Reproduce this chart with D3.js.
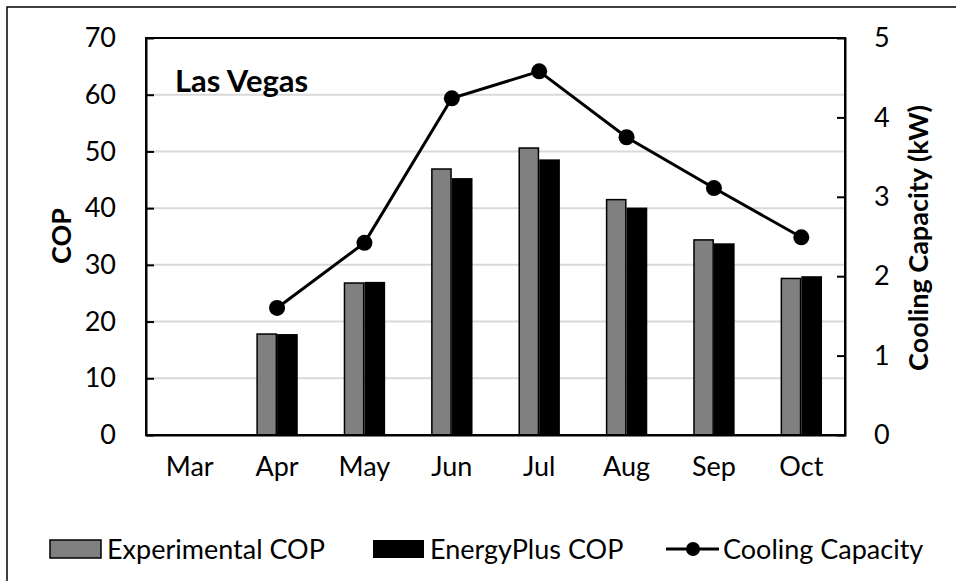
<!DOCTYPE html>
<html>
<head>
<meta charset="utf-8">
<script src="https://cdn.jsdelivr.net/npm/d3@7"></script>
<style>
  body { margin: 0; background: #fff; }
  svg { display: block; font-family: Lato, "Liberation Sans", sans-serif; }
</style>
</head>
<body>
<svg id="chart" width="956" height="581"></svg>
<script>
// Monthly data, Las Vegas
var months = ['Mar', 'Apr', 'May', 'Jun', 'Jul', 'Aug', 'Sep', 'Oct'];
var experimentalCop = [null, 17.8, 26.8, 46.9, 50.6, 41.5, 34.4, 27.6];
var energyPlusCop = [null, 17.8, 27.0, 45.3, 48.6, 40.1, 33.8, 28.0];
var coolingCapacity = [null, 1.60, 2.42, 4.24, 4.58, 3.75, 3.11, 2.49];
var copTicks = [0, 10, 20, 30, 40, 50, 60, 70];
var capTicks = [0, 1, 2, 3, 4, 5];

var svg = d3.select('#chart');
var margin = { top: 38, right: 111, bottom: 146, left: 146 };
var width = 956 - margin.left - margin.right;
var height = 581 - margin.top - margin.bottom;

// outer frame (only left and top edges visible)
svg.append('rect')
	.attr('x', 7).attr('y', 7)
	.attr('width', 1000).attr('height', 1000)
	.attr('fill', 'none').attr('stroke', '#000').attr('stroke-width', 1.5);

var g = svg.append('g').attr('transform', 'translate(' + margin.left + ',' + margin.top + ')');

var x = d3.scaleBand().domain(months).range([0, width]).paddingInner(0.526).paddingOuter(0.263);
var xSeries = d3.scaleBand().domain(['exp', 'ep']).range([0, x.bandwidth()]);
var yLeft = d3.scaleLinear().domain([0, 70]).range([height, 0]);
var yRight = d3.scaleLinear().domain([0, 5]).range([height, 0]);

// Gridlines
g.append('g')
	.selectAll('line')
	.data(copTicks.slice(1, -1))
	.enter()
	.append('line')
	.attr('x1', 0).attr('x2', width)
	.attr('y1', function(d) { return yLeft(d); })
	.attr('y2', function(d) { return yLeft(d); })
	.attr('stroke', '#d9d9d9').attr('stroke-width', 2);

// Bars
var groups = g.append('g')
	.selectAll('g')
	.data(months)
	.enter()
	.append('g')
	.attr('transform', function(d) { return 'translate(' + x(d) + ',0)'; });

groups.each(function(m, i) {
	var grp = d3.select(this);
	if (experimentalCop[i] != null) {
		grp.append('rect')
			.attr('x', xSeries('exp') + 0.75)
			.attr('y', yLeft(experimentalCop[i]))
			.attr('width', xSeries.bandwidth() - 1.5)
			.attr('height', height - yLeft(experimentalCop[i]))
			.attr('fill', '#808080')
			.attr('stroke', '#000').attr('stroke-width', 1.5);
	}
	if (energyPlusCop[i] != null) {
		grp.append('rect')
			.attr('x', xSeries('ep'))
			.attr('y', yLeft(energyPlusCop[i]))
			.attr('width', xSeries.bandwidth())
			.attr('height', height - yLeft(energyPlusCop[i]))
			.attr('fill', '#000');
	}
});

// Cooling capacity line
var pts = months.map(function(m, i) { return { m: m, v: coolingCapacity[i] }; })
	.filter(function(d) { return d.v != null; });

var line = d3.line()
	.x(function(d) { return x(d.m) + x.bandwidth() / 2; })
	.y(function(d) { return yRight(d.v); });

g.append('path')
	.datum(pts)
	.attr('d', line)
	.attr('fill', 'none')
	.attr('stroke', '#000')
	.attr('stroke-width', 3);

g.append('g')
	.selectAll('circle')
	.data(pts)
	.enter()
	.append('circle')
	.attr('cx', function(d) { return x(d.m) + x.bandwidth() / 2; })
	.attr('cy', function(d) { return yRight(d.v); })
	.attr('r', 8)
	.attr('fill', '#000');

// Axes (ticks point inward)
var leftAxis = g.append('g')
	.call(d3.axisLeft(yLeft).tickValues(copTicks).tickSize(-8).tickPadding(30));
var rightAxis = g.append('g')
	.attr('transform', 'translate(' + width + ',0)')
	.call(d3.axisRight(yRight).tickValues(capTicks).tickFormat(d3.format('d')).tickSize(-8).tickPadding(29));
var bottomAxis = g.append('g')
	.attr('transform', 'translate(0,' + height + ')')
	.call(d3.axisBottom(x).tickSize(0).tickPadding(22));

[leftAxis, rightAxis, bottomAxis].forEach(function(a) {
	a.selectAll('text').attr('font-size', 27).attr('font-family', 'Lato, sans-serif').attr('fill', '#000');
	a.selectAll('.domain, .tick line').attr('stroke', '#000').attr('stroke-width', 2);
});
rightAxis.selectAll('.tick line').filter(function(d) { return d === 0 || d === 5; }).remove();
leftAxis.selectAll('.tick line').filter(function(d) { return d === 0 || d === 70; }).remove();

// plot box
g.append('rect')
	.attr('width', width).attr('height', height)
	.attr('fill', 'none').attr('stroke', '#000').attr('stroke-width', 2);

// Titles
g.append('text')
	.attr('x', 29).attr('y', 54)
	.attr('font-size', 31).attr('font-weight', 'bold')
	.text('Las Vegas');

svg.append('text')
	.attr('transform', 'translate(71,236) rotate(-90)')
	.attr('text-anchor', 'middle')
	.attr('font-size', 27).attr('font-weight', 'bold')
	.text('COP');

svg.append('text')
	.attr('transform', 'translate(928,238) rotate(-90)')
	.attr('text-anchor', 'middle')
	.attr('font-size', 27).attr('font-weight', 'bold')
	.text('Cooling Capacity (kW)');

// Legend
var legend = svg.append('g').attr('font-size', 27);

legend.append('rect')
	.attr('x', 50).attr('y', 540).attr('width', 51).attr('height', 18)
	.attr('fill', '#808080').attr('stroke', '#000').attr('stroke-width', 1.5);
legend.append('text').attr('x', 107).attr('y', 559).text('Experimental COP');

legend.append('rect')
	.attr('x', 373).attr('y', 540).attr('width', 51).attr('height', 18)
	.attr('fill', '#000');
legend.append('text').attr('x', 430).attr('y', 559).text('EnergyPlus COP');

legend.append('line')
	.attr('x1', 666).attr('x2', 719).attr('y1', 549).attr('y2', 549)
	.attr('stroke', '#000').attr('stroke-width', 3);
legend.append('circle').attr('cx', 693).attr('cy', 549).attr('r', 7).attr('fill', '#000');
legend.append('text').attr('x', 723).attr('y', 559).text('Cooling Capacity');
</script>
</body>
</html>
